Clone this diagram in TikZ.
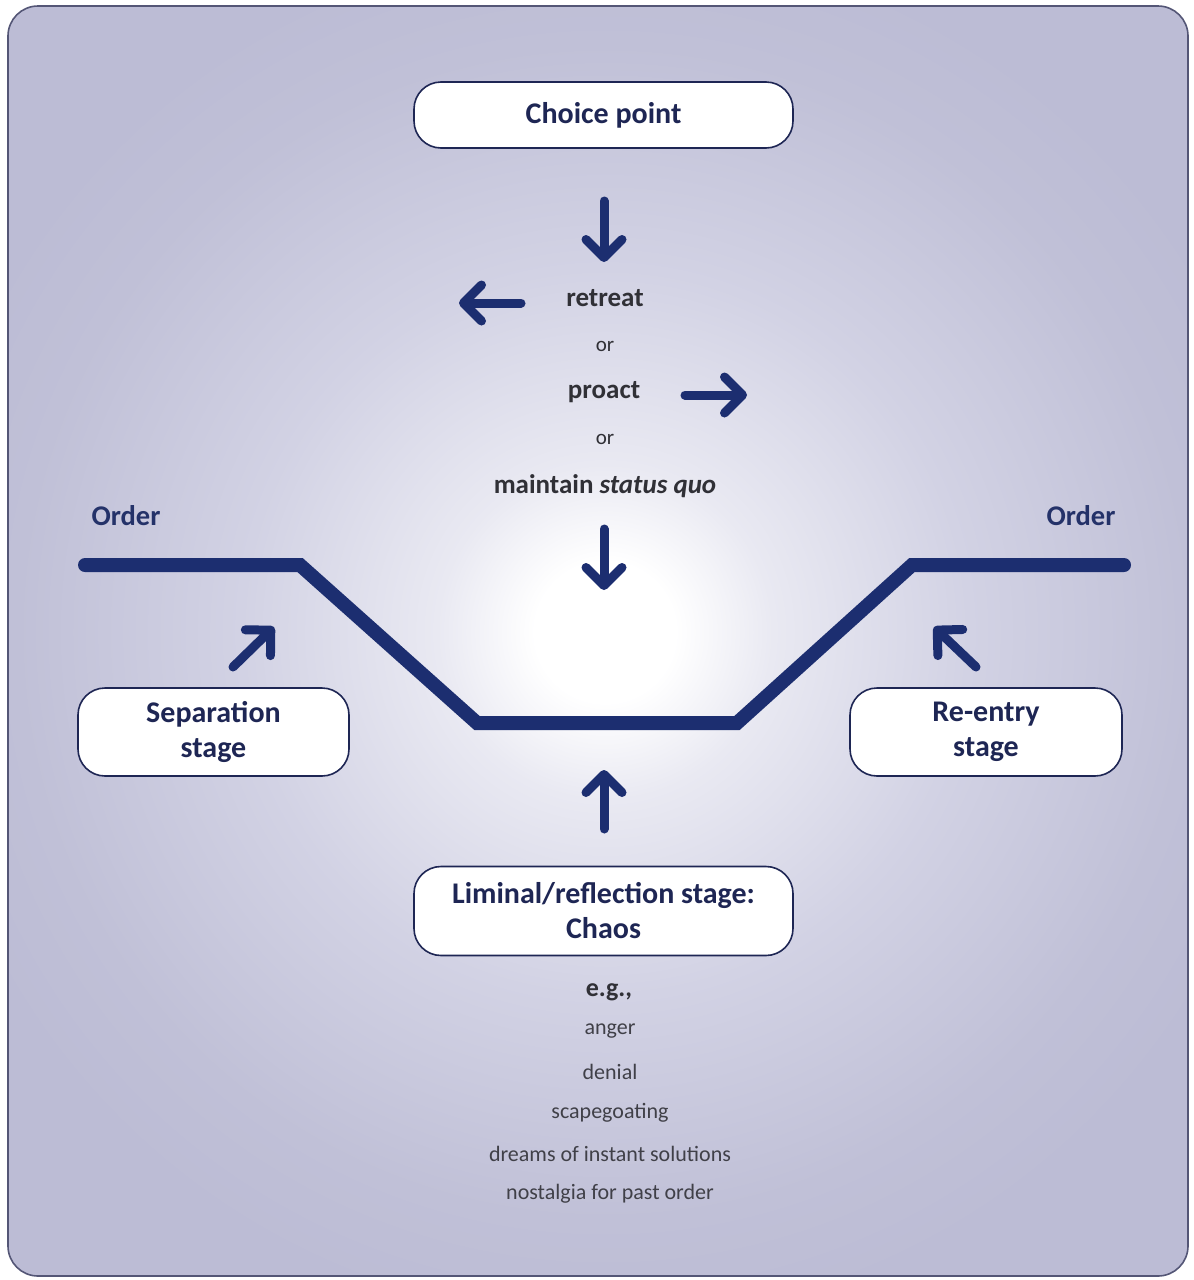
\documentclass[tikz,border=0pt]{standalone}
\usepackage{fontspec}
\setmainfont{Carlito}
\usetikzlibrary{arrows.meta}
\definecolor{navy}{RGB}{28,46,112}
\definecolor{inknavy}{RGB}{30,38,84}
\definecolor{ordernavy}{RGB}{36,50,105}
\definecolor{lav}{RGB}{188,188,213}
\definecolor{framec}{RGB}{84,86,118}
\definecolor{ink}{RGB}{48,48,54}
\definecolor{softink}{RGB}{64,64,72}
% soft glow: 25bp is the radius of the shaded circle
\pgfdeclareradialshading{glow}{\pgfpoint{0bp}{0bp}}{color(0bp)=(white); color(2.5bp)=(white);
  color(6bp)=(rgb,255:red,233;green,233;blue,242); color(13bp)=(rgb,255:red,210;green,210;blue,228);
  color(21bp)=(rgb,255:red,192;green,192;blue,215); color(25bp)=(lav); color(50bp)=(lav)}
\tikzset{
  stagebox/.style={draw=inknavy, line width=1.6pt, fill=white, rounded corners=27pt,
    align=center, text=inknavy, font=\fontsize{30}{35}\selectfont\bfseries, inner sep=0pt},
  mid/.style={text=ink, font=\fontsize{27}{30}\selectfont\bfseries, inner sep=0pt},
  small/.style={text=ink, font=\fontsize{21}{24}\selectfont, inner sep=0pt},
  listitem/.style={text=softink, font=\fontsize{22}{26}\selectfont, inner sep=0pt},
  ordertext/.style={text=ordernavy, font=\fontsize{28.5}{32}\selectfont\bfseries, inner sep=0pt},
  bigarrow/.style={navy, line width=9pt, line cap=round,
    -{Straight Barb[round, length=18pt, width=36pt]}},
  pathline/.style={navy, line width=14pt, line cap=round, line join=miter},
}
\begin{document}
\begin{tikzpicture}[x=1pt, y=-1pt]
  \useasboundingbox (0,0) rectangle (1194,1280);
  % frame with soft radial glow
  \begin{scope}
    \clip[rounded corners=30pt] (8,6) rectangle (1188,1276);
    \fill[lav] (8,6) rectangle (1188,1276);
    \path[shading=glow] (605,632) circle[radius=700pt];
  \end{scope}
  \draw[framec, line width=1.6pt, rounded corners=30pt] (8,6) rectangle (1188,1276);

  % stage boxes
  \node[stagebox, minimum width=379pt, minimum height=66pt] (choice) at (603.5,115) {Choice point};
  \node[stagebox, minimum width=271pt, minimum height=88pt] (sep) at (213.5,732) {Separation\\stage};
  \node[stagebox, minimum width=272pt, minimum height=88pt] (reentry) at (986,732) {Re-entry\\stage};
  \node[stagebox, minimum width=379pt, minimum height=89pt] (liminal) at (603.5,911) {Liminal/reflection stage:\\Chaos};

  % options at the choice point
  \node[mid] (retreat) at (605,298) {retreat};
  \node[small] (or1) at (605,346) {or};
  \node[mid] (proact) at (604,392) {proact};
  \node[small] (or2) at (605,439) {or};
  \node[mid] (maintain) at (605,486) {maintain \textit{status quo}};

  % order labels
  \node[ordertext] (orderL) at (126,516) {Order};
  \node[ordertext] (orderR) at (1081,516) {Order};

  % the path through the transition
  \coordinate (p1) at (85,565);
  \coordinate (p2) at (300,565);
  \coordinate (p3) at (477,723);
  \coordinate (p4) at (737,723);
  \coordinate (p5) at (912,565);
  \coordinate (p6) at (1124,565);
  \draw[pathline] (p1) -- (p2) -- (p3) -- (p4) -- (p5) -- (p6);

  % arrow end points
  \coordinate (downAtail) at (604,201);
  \coordinate (downAtip) at (604,262);
  \coordinate (leftTail) at (521,303);
  \coordinate (leftTip) at (459,303);
  \coordinate (rightTail) at (685,395);
  \coordinate (rightTip) at (747,395);
  \coordinate (downBtail) at (604,529);
  \coordinate (downBtip) at (604,590);
  \coordinate (sepTail) at (233,667);
  \coordinate (sepTip) at (274,627);
  \coordinate (reTail) at (976,667);
  \coordinate (reTip) at (934,627);
  \coordinate (upTail) at (604,829);
  \coordinate (upTip) at (604,770);

  \draw[bigarrow] (downAtail) -- (downAtip);
  \draw[bigarrow] (leftTail) -- (leftTip);
  \draw[bigarrow] (rightTail) -- (rightTip);
  \draw[bigarrow] (downBtail) -- (downBtip);
  \draw[bigarrow] (sepTail) -- (sepTip);
  \draw[bigarrow] (reTail) -- (reTip);
  \draw[bigarrow] (upTail) -- (upTip);

  % examples of chaos
  \node[mid, font=\fontsize{26}{30}\selectfont\bfseries] (eg) at (609,992) {e.g.,};
  \node[listitem] (l1) at (610,1031) {anger};
  \node[listitem] (l2) at (610,1072) {denial};
  \node[listitem] (l3) at (610,1113) {scapegoating};
  \node[listitem] (l4) at (610,1154) {dreams of instant solutions};
  \node[listitem] (l5) at (610,1194) {nostalgia for past order};
\end{tikzpicture}
\end{document}
